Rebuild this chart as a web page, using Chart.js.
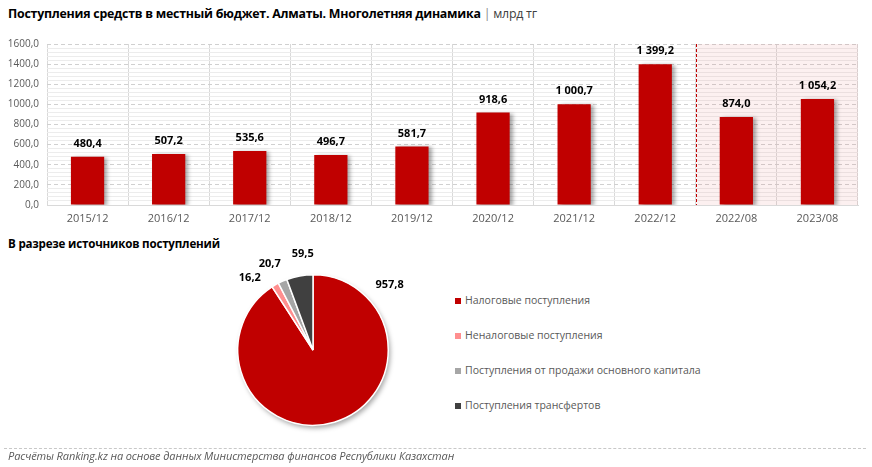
<!DOCTYPE html>
<html>
<head>
<meta charset="utf-8">
<script src="https://cdn.jsdelivr.net/npm/chart.js@4.4.1/dist/chart.umd.min.js"></script>
<style>
  body { margin: 0; width: 872px; height: 467px; background: #fff; position: relative; overflow: hidden;
         font-family: "Open Sans", "Noto Sans", sans-serif; color: #000; }
  .title { position: absolute; left: 8px; top: 5px; font-size: 12.4px; font-weight: 700; white-space: nowrap; letter-spacing: -0.25px; }
  .title .unit { font-weight: 400; color: #404040; }
  .title .sep { font-weight: 400; color: #888; padding: 0 3px; }
  .subtitle { position: absolute; left: 8px; top: 236px; font-size: 11.6px; font-weight: 700; letter-spacing: -0.2px; }
  #bar-wrap { position: absolute; left: 0; top: 30px; }
  #pie-wrap { position: absolute; left: 193px; top: 240px; }
  .legend { position: absolute; left: 455px; top: 293px; font-size: 10.5px; color: #595959; }
  .legend div { height: 35px; display: flex; align-items: flex-start; white-space: nowrap; }
  .legend i { display: inline-block; width: 6px; height: 6px; margin: 5px 4px 0 0; }
  .rule { position: absolute; left: 4px; right: 6px; top: 448px; border-top: 1px dashed #c8c8c8; }
  .source { position: absolute; left: 8px; top: 448px; font-size: 11px; font-style: italic; color: #595959; letter-spacing: -0.1px; }
</style>
</head>
<body>
<div class="title">Поступления средств в местный бюджет. Алматы. Многолетняя динамика<span class="sep">|</span><span class="unit">млрд тг</span></div>
<div id="bar-wrap"><canvas id="bar-chart" width="872" height="200"></canvas></div>
<div class="subtitle">В разрезе источников поступлений</div>
<div id="pie-wrap"><canvas id="pie-chart" width="240" height="220"></canvas></div>
<div class="legend" id="legend"></div>
<div class="rule"></div>
<div class="source">Расчёты Ranking.kz на основе данных Министерства финансов Республики Казахстан</div>

<script>
const periods = ['2015/12', '2016/12', '2017/12', '2018/12', '2019/12', '2020/12', '2021/12', '2022/12', '2022/08', '2023/08'];
const revenue = [480.4, 507.2, 535.6, 496.7, 581.7, 918.6, 1000.7, 1399.2, 874.0, 1054.2];
const highlightFrom = 8; // 8-month comparison columns

const sourceNames = ['Налоговые поступления', 'Неналоговые поступления', 'Поступления от продажи основного капитала', 'Поступления трансфертов'];
const sourceValues = [957.8, 16.2, 20.7, 59.5];
const sourceColors = ['#c00000', '#ff8f8f', '#a6a6a6', '#404040'];

const red = '#c00000';
const grey = '#595959';

function fmt(v) {
    const parts = v.toFixed(1).split('.');
    return parts[0].replace(/\B(?=(\d{3})+(?!\d))/g, ' ') + ',' + parts[1];
}

const barDecor = {
    id: 'barDecor',
    beforeDatasetsDraw(chart) {
        const { ctx, chartArea: a, scales: { x } } = chart;
        const step = x.getPixelForValue(1) - x.getPixelForValue(0);
        const left = Math.round(x.getPixelForValue(highlightFrom) - step / 2) + 0.5;
        ctx.save();
        ctx.fillStyle = 'rgba(225, 120, 120, 0.11)';
        ctx.fillRect(left, a.top, a.right - left, a.bottom - a.top);
        ctx.strokeStyle = red;
        ctx.lineWidth = 1;
        ctx.setLineDash([3, 2]);
        ctx.beginPath();
        ctx.moveTo(left, a.top);
        ctx.lineTo(left, a.bottom);
        ctx.stroke();
        ctx.restore();
        // soft shadow behind the bars
        ctx.save();
        ctx.shadowColor = 'rgba(0, 0, 0, 0.35)';
        ctx.shadowOffsetX = 3;
        ctx.shadowOffsetY = 1;
        ctx.shadowBlur = 4;
    },
    afterDatasetsDraw(chart) {
        const ctx = chart.ctx;
        ctx.restore();
        ctx.save();
        ctx.font = 'bold 11px "Open Sans", sans-serif';
        ctx.fillStyle = '#000';
        ctx.textAlign = 'center';
        ctx.textBaseline = 'middle';
        chart.getDatasetMeta(0).data.forEach((bar, i) => {
            ctx.fillText(fmt(revenue[i]), bar.x, bar.y - 13);
        });
        ctx.restore();
    }
};

new Chart(document.getElementById('bar-chart'), {
    type: 'bar',
    data: {
        labels: periods,
        datasets: [{
            data: revenue,
            backgroundColor: red,
            barPercentage: 0.41,
            categoryPercentage: 1
        }]
    },
    options: {
        responsive: false,
        animation: false,
        layout: { padding: { left: 0, right: 14, top: 8, bottom: 0 } },
        scales: {
            x: {
                grid: { offset: true, color: '#d9d9d9', drawTicks: false },
                border: { color: '#d9d9d9' },
                ticks: { color: grey, font: { size: 11, family: '"Open Sans"' }, padding: 7 },
                afterFit(s) { s.height = 25; }
            },
            y: {
                min: 0,
                max: 1600,
                ticks: {
                    stepSize: 200,
                    color: grey,
                    font: { size: 10, family: '"Open Sans"' },
                    padding: 8,
                    callback: v => v.toFixed(1).replace('.', ',')
                },
                grid: { color: '#d0d0d0', drawTicks: false },
                border: { display: false, dash: [4, 3] },
                afterFit(s) { s.width = 47; }
            },
            yMinor: {
                position: 'left',
                min: 0,
                max: 1600,
                ticks: { stepSize: 40, display: false },
                grid: {
                    drawTicks: false,
                    color: c => (c.tick && c.tick.value % 200 === 0) ? 'rgba(0,0,0,0)' : '#ececec'
                },
                border: { display: false },
                afterFit(s) { s.width = 0; }
            }
        },
        plugins: {
            legend: { display: false },
            tooltip: { enabled: false }
        }
    },
    plugins: [barDecor]
});

// small nudges so the outside labels of the thin slices do not collide
const labelNudge = [0, -0.19, -0.05, 0.07];

const pieDecor = {
    id: 'pieDecor',
    beforeDatasetsDraw(chart) {
        const ctx = chart.ctx;
        const arc = chart.getDatasetMeta(0).data[0];
        ctx.save();
        ctx.shadowColor = 'rgba(0, 0, 0, 0.35)';
        ctx.shadowOffsetX = 2;
        ctx.shadowOffsetY = 3;
        ctx.shadowBlur = 5;
        ctx.fillStyle = '#fff';
        ctx.beginPath();
        ctx.arc(arc.x, arc.y, arc.outerRadius, 0, Math.PI * 2);
        ctx.fill();
        ctx.restore();
    },
    afterDatasetsDraw(chart) {
        const ctx = chart.ctx;
        const total = sourceValues.reduce((s, v) => s + v, 0);
        ctx.save();
        ctx.font = 'bold 11px "Open Sans", sans-serif';
        ctx.fillStyle = '#000';
        ctx.textAlign = 'center';
        ctx.textBaseline = 'middle';
        chart.getDatasetMeta(0).data.forEach((arc, i) => {
            let angle, dist;
            if (sourceValues[i] / total > 0.5) {
                angle = arc.startAngle + 0.87;
                dist = arc.outerRadius + 25;
            } else {
                angle = (arc.startAngle + arc.endAngle) / 2 + labelNudge[i];
                dist = arc.outerRadius + 21;
            }
            ctx.fillText(fmt(sourceValues[i]), arc.x + Math.cos(angle) * dist, arc.y + Math.sin(angle) * dist);
        });
        ctx.restore();
    }
};

new Chart(document.getElementById('pie-chart'), {
    type: 'pie',
    data: {
        labels: sourceNames,
        datasets: [{
            data: sourceValues,
            backgroundColor: sourceColors,
            borderColor: '#fff',
            borderWidth: 1.5
        }]
    },
    options: {
        responsive: false,
        animation: false,
        layout: { padding: 34 },
        plugins: {
            legend: { display: false },
            tooltip: { enabled: false }
        }
    },
    plugins: [pieDecor]
});

const legendBox = document.getElementById('legend');
sourceNames.forEach((name, i) => {
    const row = document.createElement('div');
    const sw = document.createElement('i');
    sw.style.background = sourceColors[i];
    row.appendChild(sw);
    row.appendChild(document.createTextNode(name));
    legendBox.appendChild(row);
});
</script>
</body>
</html>
